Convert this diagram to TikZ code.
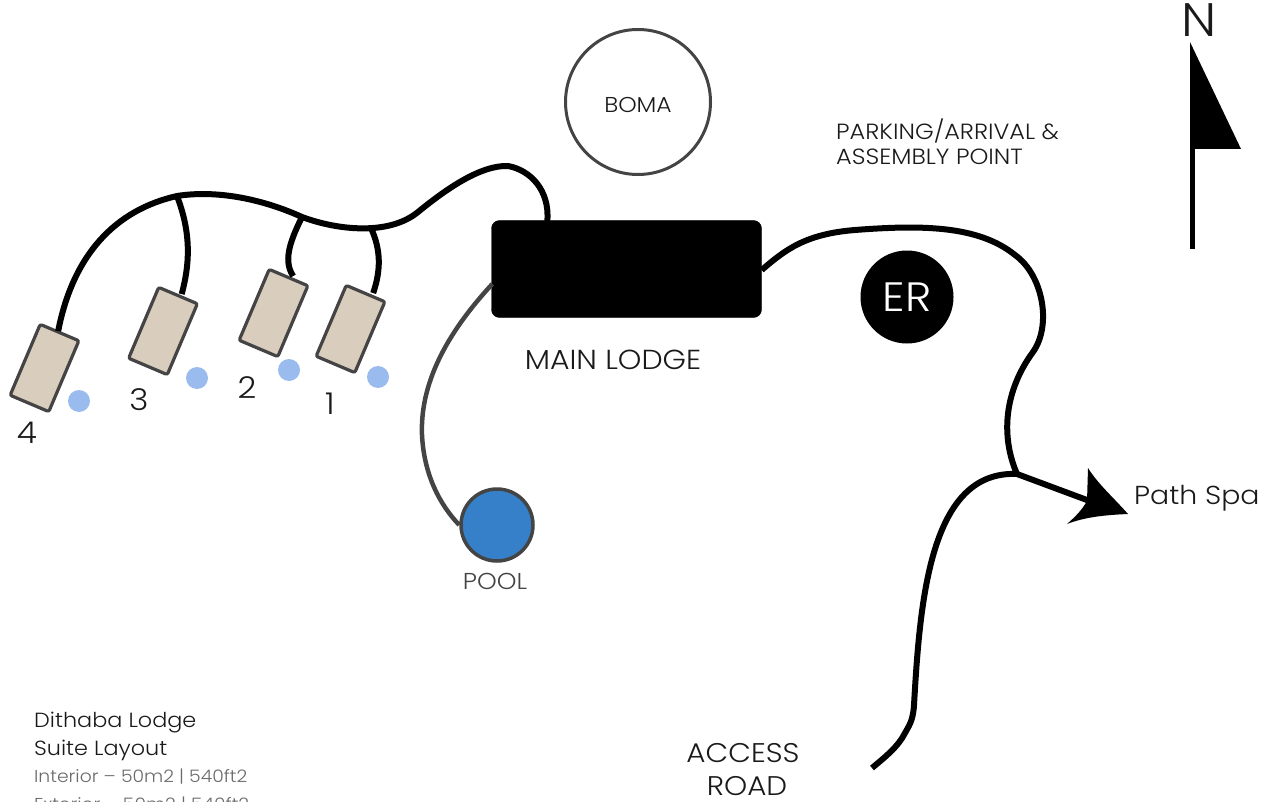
\documentclass[tikz,border=0pt]{standalone}
\usepackage{fontspec}
\setmainfont{Poppins}[UprightFont=* Light,FakeStretch=1.09]
\usetikzlibrary{calc}
\definecolor{edgegrey}{HTML}{444444}
\definecolor{suitefill}{HTML}{D9CDBD}
\definecolor{dotblue}{HTML}{9ABBEE}
\definecolor{poolblue}{HTML}{3580C8}
\definecolor{inktext}{HTML}{1A1A1A}
\definecolor{softtext}{HTML}{6A6A6A}
\tikzset{
  suite/.style={draw=edgegrey,line width=3.2pt,fill=suitefill,rounded corners=2pt,minimum width=42pt,minimum height=77pt,inner sep=0pt,rotate=-23},
  spot/.style={circle,fill=dotblue,minimum size=22pt,inner sep=0pt},
  pathway/.style={line width=6pt,black},
  greyway/.style={line width=4.5pt,edgegrey},
  lab/.style={text=inktext,inner sep=0pt,font=\fontsize{#1}{#1}\selectfont},
  lab/.default=21
}
\begin{document}
\begin{tikzpicture}[x=1pt,y=-1pt]
\useasboundingbox (0,0) rectangle (1265,802);
\clip (0,0) rectangle (1265,802);
\node[suite] (s4) at (44.5,368) {};
\node[suite] (s3) at (163,331) {};
\node[suite] (s2) at (273.5,313) {};
\node[suite] (s1) at (350.5,329) {};
\node[spot] (d4) at (79,401) {};
\node[spot] (d3) at (197,378) {};
\node[spot] (d2) at (289,370) {};
\node[spot] (d1) at (378,377) {};
\node[draw=black,fill=black,rounded corners=8pt,minimum width=270pt,minimum height=97pt,inner sep=0pt] (main) at (626.5,269) {};
\node[circle,fill=black,minimum size=93pt,inner sep=0pt,text=white,font=\fontsize{41}{41}\selectfont] (er) at (907,297) {ER};
\node[circle,draw=edgegrey,line width=3pt,minimum size=145pt,inner sep=0pt,text=inktext,font=\fontsize{21.5}{21.5}\selectfont,text height=22pt,text depth=0pt] (boma) at (638,102) {BOMA};
\node[circle,draw=edgegrey,line width=3.5pt,fill=poolblue,minimum size=72pt,inner sep=0pt] (pool) at (497,525) {};
\coordinate (j3) at (177,196);
\coordinate (j2) at (302,217);
\coordinate (j1) at (371,228);
\coordinate (mainTop) at ($(main.north west)+(56,1)$);
\coordinate (mainRight) at ($(main.east)+(0,1)$);
\coordinate (mainLeft) at ($(main.west)+(1,15)$);
\coordinate (fork) at (1017,474);
\coordinate (roadEnd) at (872,768);
\draw[pathway] ($(s4.north)+(-2,0)$) .. controls (73,255) and (115,210) .. (j3)
  .. controls (215,190) and (260,198) .. (j2)
  .. controls (340,231) and (390,235) .. (418,212)
  .. controls (445,190) and (480,165) .. (508,166)
  .. controls (530,170) and (550,190) .. (mainTop);
\draw[pathway] (j3) .. controls (190,230) and (191,260) .. ($(s3.north)+(3,0)$);
\draw[pathway] (j2) .. controls (288,245) and (284,262) .. ($(s2.north)+(4,0)$);
\draw[pathway] (j1) .. controls (381,250) and (381,270) .. ($(s1.north)+(7,1)$);
\draw[pathway] (mainRight) .. controls (785,250) and (805,234) .. (855,230)
  .. controls (920,225) and (978,225) .. (1015,255)
  .. controls (1043,275) and (1052,325) .. (1033,352)
  .. controls (1005,390) and (1000,435) .. (fork);
\draw[pathway] (roadEnd) .. controls (885,757) and (898,747) .. (905,733)
  .. controls (908,727) and (913,722) .. (914,705)
  .. controls (920,600) and (930,470) .. (fork);
\draw[greyway] (mainLeft) .. controls (445,335) and (420,385) .. (422,435) .. controls (424,475) and (440,505) .. (pool.west);
\coordinate (tip) at (1128,514);
\draw[pathway] (fork) -- (1095,503);
\fill[black] (tip) .. controls (1112,496) and (1098,484) .. (1088,468) -- (1087,501) .. controls (1082,510) and (1075,517) .. (1067,524) .. controls (1085,517) and (1105,515) .. (tip) -- cycle;
\coordinate (nTop) at (1190,42);
\coordinate (nBase) at (1190,249);
\draw[line width=5pt,black] ($(nTop)+(2.5,20)$) -- ($(nBase)+(2.5,0)$);
\fill[black] (nTop) -- (1241,149) -- (1190,149) -- cycle;
\node[lab=47] (north) at (1199,20) {N};
\node[lab=22,anchor=base west,align=left] (park1) at (836,140) {PARKING/ARRIVAL \&};
\node[lab=22,anchor=base west] (park2) at (836,165) {ASSEMBLY POINT};
\node[lab=27.5] (mainlab) at (613,360) {MAIN LODGE};
\node[lab=23,text=edgegrey] (poollab) at (495,581) {POOL};
\node[lab=30] (n4) at (27,433) {4};
\node[lab=30] (n3) at (139,400) {3};
\node[lab=30] (n2) at (247,388) {2};
\node[lab=30] (n1) at (330,404) {1};
\node[lab=26,anchor=base west] (spa) at (1134,504) {Path Spa};
\node[lab=27] (acc1) at (743,753) {ACCESS};
\node[lab=27] (acc2) at (747,786) {ROAD};
\node[lab=20.5,anchor=base west] (t1) at (34,727) {Dithaba Lodge};
\node[lab=20.5,anchor=base west] (t2) at (34,755) {Suite Layout};
\node[lab=17.2,anchor=base west,text=softtext] (t3) at (34,782) {Interior – 50m2 | 540ft2};
\node[lab=17.2,anchor=base west,text=softtext] (t4) at (34,810) {Exterior – 50m2 | 540ft2};
\end{tikzpicture}
\end{document}
